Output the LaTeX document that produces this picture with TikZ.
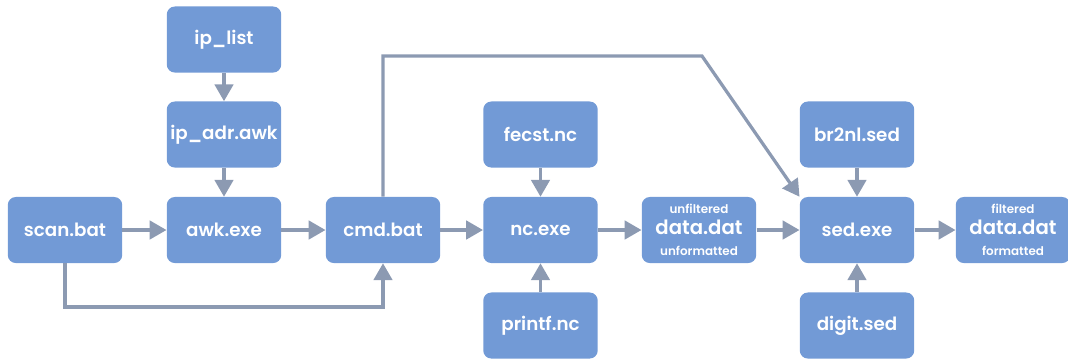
\documentclass[tikz,border=0pt]{standalone}
\usepackage{fontspec}
\setmainfont{Poppins}[BoldFont={Poppins SemiBold}]
\usepackage{tikz}
\usetikzlibrary{positioning,arrows.meta,calc}
\definecolor{boxblue}{RGB}{114,154,214}
\definecolor{arrowgray}{RGB}{140,154,178}

\tikzset{
  box/.style={draw=none, fill=boxblue, rounded corners=0.2cm,
    minimum width=2.86cm, minimum height=1.65cm, inner sep=0pt,
    text=white, font=\bfseries\fontsize{13}{15}\selectfont, align=center},
  flow/.style={draw=arrowgray, line width=2.3pt,
    -{Triangle[length=0.42cm, width=0.46cm]}}
}
\newcommand{\tag}[1]{{\fontsize{8.5}{10}\selectfont #1}}
\newcommand{\bigname}[1]{{\fontsize{14}{16}\selectfont #1}}

\begin{document}
\begin{tikzpicture}[x=0.025cm, y=-0.025cm]
  \useasboundingbox (0,0) rectangle (1068,358);
  % top row
  \node[box] (iplist) at (224, 39.5) {ip\_list};
  \node[box] (ipadr)  at (224, 134.5) {ip\_adr.awk};
  \node[box] (fecst)  at (540.5, 134.5) {fecst.nc};
  \node[box] (brnl)   at (857, 134.5) {br2nl.sed};
  % main row
  \node[box] (scanbat) at (65, 230) {scan.bat};
  \node[box] (awkexe)  at (224, 230) {awk.exe};
  \node[box] (cmdbat)  at (383, 230) {cmd.bat};
  \node[box] (ncexe)   at (540.5, 230) {nc.exe};
  \node[box] (rawdat)  at (699, 230) {\tag{unfiltered}\\\bigname{data.dat}\\\tag{unformatted}};
  \node[box] (sedexe)  at (857, 230) {sed.exe};
  \node[box] (outdat)  at (1013, 230) {\tag{filtered}\\\bigname{data.dat}\\\tag{formatted}};
  % bottom row
  \node[box] (printf) at (540.5, 325.5) {printf.nc};
  \node[box] (digit)  at (857, 325.5) {digit.sed};

  \draw[flow] (iplist) -- (ipadr);
  \draw[flow] (ipadr) -- (awkexe);
  \draw[flow] (scanbat) -- (awkexe);
  \draw[flow] (awkexe) -- (cmdbat);
  \draw[flow] (cmdbat) -- (ncexe);
  \draw[flow] (fecst) -- (ncexe);
  \draw[flow] (printf) -- (ncexe);
  \draw[flow] (ncexe) -- (rawdat);
  \draw[flow] (rawdat) -- (sedexe);
  \draw[flow] (brnl) -- (sedexe);
  \draw[flow] (digit) -- (sedexe);
  \draw[flow] (sedexe) -- (outdat);
  % loops round
  \draw[flow] (scanbat.south) -- (65, 307) -| (cmdbat.south);
  \draw[flow] (cmdbat.north) -- (383, 56) -- (702, 56) -- (sedexe.north west);
\end{tikzpicture}
\end{document}
